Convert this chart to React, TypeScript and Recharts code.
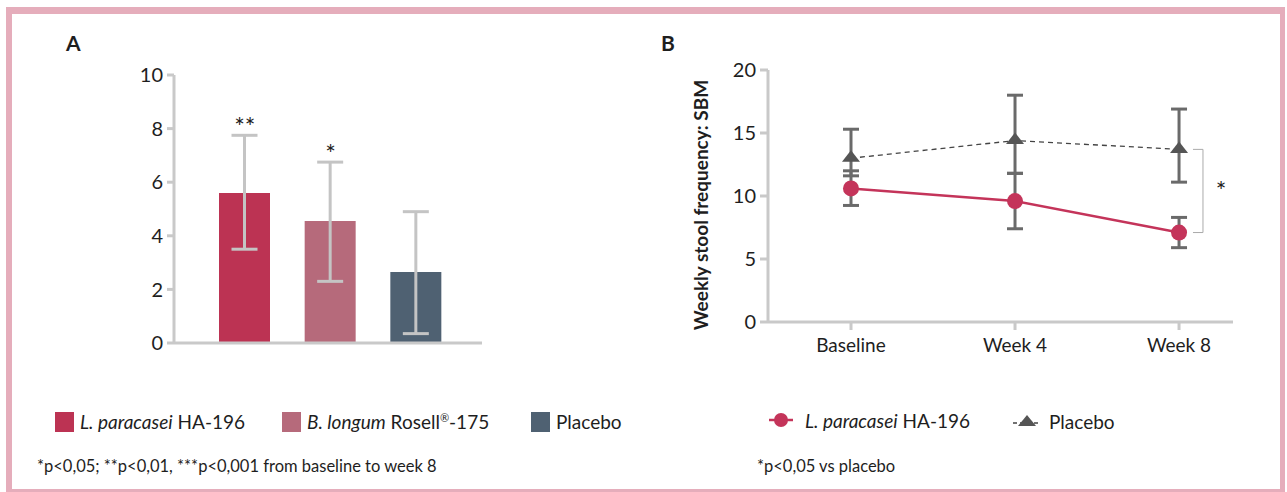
import React from 'react';
import {
  ComposedChart,
  Bar,
  Cell,
  ErrorBar,
  XAxis,
  YAxis,
  Line,
  LabelList,
  ReferenceLine,
  ReferenceDot,
} from 'recharts';

const FONT = 'Lato, "Noto Sans", sans-serif';
const TEXT = '#1e1e1e';
const AXIS = '#c9c9c9';

// ---------- Panel A data ----------
const groupsA = ['L. paracasei HA-196', 'B. longum Rosell®-175', 'Placebo'];
const meanA = [5.6, 4.55, 2.65];
const lowA = [3.5, 2.3, 0.35];
const highA = [7.75, 6.75, 4.9];
const starsA = ['**', '*', ''];
const colorsA = ['#bc3353', '#b66a7b', '#4f6172'];
const ticksA = [0, 2, 4, 6, 8, 10];

// ---------- Panel B data ----------
const visitsB = ['Baseline', 'Week 4', 'Week 8'];
const probioticB = [10.6, 9.6, 7.1];
const probioticLowB = [9.25, 7.4, 5.9];
const probioticHighB = [12.0, 11.8, 8.3];
const placeboB = [13.0, 14.4, 13.7];
const placeboLowB = [11.6, 11.8, 11.1];
const placeboHighB = [15.3, 18.0, 16.9];
const ticksB = [0, 5, 10, 15, 20];

const dataA = groupsA.map((g, i) => ({
  name: g,
  mean: meanA[i],
  err: [meanA[i] - lowA[i], highA[i] - meanA[i]],
  high: highA[i],
  star: starsA[i],
}));

const dataB = visitsB.map((v, i) => ({
  x: i,
  probiotic: probioticB[i],
  probioticErr: [probioticB[i] - probioticLowB[i], probioticHighB[i] - probioticB[i]],
  placebo: placeboB[i],
  placeboErr: [placeboB[i] - placeboLowB[i], placeboHighB[i] - placeboB[i]],
}));

const RED_LINE = '#c4345a';
const ERR_B = '#6a6a6a';

const Triangle = (props: any) => {
  const { cx, cy } = props;
  if (cx == null || cy == null) return null;
  return (
    <polygon
      points={`${cx - 9},${cy + 3.5} ${cx + 9},${cy + 3.5} ${cx},${cy - 8}`}
      fill="#555555"
    />
  );
};

const last = visitsB.length - 1;

function ChartA() {
  return (
    <ComposedChart
      width={500}
      height={380}
      data={dataA}
      margin={{ top: 75, right: 18, bottom: 7, left: 0 }}
      style={{ position: 'absolute', left: 0, top: 0 }}
    >
      <XAxis
        dataKey="name"
        type="category"
        height={30}
        tick={false}
        tickLine={false}
        axisLine={{ stroke: AXIS, strokeWidth: 3 }}
        padding={{ left: 28, right: 23 }}
      />
      <YAxis
        width={174}
        domain={[0, 10]}
        ticks={ticksA}
        interval={0}
        tickSize={7}
        tickMargin={4}
        tick={{ fill: TEXT, fontSize: 20, fontFamily: FONT }}
        tickLine={{ stroke: AXIS, strokeWidth: 3 }}
        axisLine={{ stroke: AXIS, strokeWidth: 3 }}
      />
      <Bar dataKey="mean" barSize={51} isAnimationActive={false}>
        {dataA.map((d, i) => (
          <Cell key={i} fill={colorsA[i]} />
        ))}
        <ErrorBar dataKey="err" direction="y" width={13} strokeWidth={3} stroke="#c4c4c4" />
      </Bar>
      <Line
        dataKey="high"
        stroke="none"
        dot={false}
        activeDot={false}
        legendType="none"
        isAnimationActive={false}
      >
        <LabelList
          dataKey="star"
          position="top"
          offset={-1}
          fill={TEXT}
          fontSize={25}
          fontFamily={FONT}
        />
      </Line>
    </ComposedChart>
  );
}

function ChartB() {
  return (
    <ComposedChart
      width={620}
      height={380}
      data={dataB}
      margin={{ top: 70, right: 27, bottom: 28, left: 0 }}
      style={{ position: 'absolute', left: 640, top: 0 }}
    >
      <XAxis
        dataKey="x"
        type="number"
        domain={[-0.506, 2.329]}
        ticks={[0, 1, 2]}
        interval={0}
        allowDataOverflow
        height={30}
        tickFormatter={(v: number) => visitsB[v] ?? ''}
        tickSize={8}
        tickMargin={9}
        tick={{ fill: TEXT, fontSize: 19, fontFamily: FONT }}
        tickLine={{ stroke: AXIS, strokeWidth: 3 }}
        axisLine={{ stroke: AXIS, strokeWidth: 3 }}
      />
      <YAxis
        width={128}
        domain={[0, 20]}
        ticks={ticksB}
        interval={0}
        tickSize={8}
        tickMargin={4}
        tick={{ fill: TEXT, fontSize: 20, fontFamily: FONT }}
        tickLine={{ stroke: AXIS, strokeWidth: 3 }}
        axisLine={{ stroke: AXIS, strokeWidth: 3 }}
      />
      <ReferenceLine
        segment={[
          { x: 2.146, y: placeboB[last] },
          { x: 2.146, y: probioticB[last] },
        ]}
        stroke="#aaaaaa"
        strokeWidth={1}
        ifOverflow="visible"
      />
      <ReferenceLine
        segment={[
          { x: 2.085, y: placeboB[last] },
          { x: 2.146, y: placeboB[last] },
        ]}
        stroke="#aaaaaa"
        strokeWidth={1}
        ifOverflow="visible"
      />
      <ReferenceLine
        segment={[
          { x: 2.085, y: probioticB[last] },
          { x: 2.146, y: probioticB[last] },
        ]}
        stroke="#aaaaaa"
        strokeWidth={1}
        ifOverflow="visible"
      />
      <ReferenceDot
        x={2.256}
        y={(placeboB[last] + probioticB[last]) / 2}
        r={0}
        fill="none"
        stroke="none"
        ifOverflow="visible"
        label={{ value: '*', position: 'center', fill: TEXT, fontSize: 25, fontFamily: FONT }}
      />
      <Line
        dataKey="placebo"
        stroke="#444444"
        strokeWidth={1.3}
        strokeDasharray="5 4"
        dot={<Triangle />}
        activeDot={false}
        isAnimationActive={false}
      >
        <ErrorBar dataKey="placeboErr" direction="y" width={8} strokeWidth={3} stroke={ERR_B} />
      </Line>
      <Line
        dataKey="probiotic"
        stroke={RED_LINE}
        strokeWidth={2.5}
        dot={{ r: 8, fill: RED_LINE, stroke: 'none' }}
        activeDot={false}
        isAnimationActive={false}
      >
        <ErrorBar dataKey="probioticErr" direction="y" width={8} strokeWidth={3} stroke={ERR_B} />
      </Line>
    </ComposedChart>
  );
}

function LegendLabelA({ i }: { i: number }) {
  if (i === 0)
    return (
      <>
        <tspan fontStyle="italic">L. paracasei</tspan>
        <tspan> HA-196</tspan>
      </>
    );
  if (i === 1)
    return (
      <>
        <tspan fontStyle="italic">B. longum</tspan>
        <tspan> Rosell</tspan>
        <tspan fontSize={11} dy={-7}>®</tspan>
        <tspan dy={7}>-175</tspan>
      </>
    );
  return <tspan>{groupsA[i]}</tspan>;
}

function Overlay() {
  const legendAX = [55, 282, 531];
  return (
    <svg
      width={1287}
      height={492}
      style={{ position: 'absolute', left: 0, top: 0, pointerEvents: 'none' }}
      fontFamily={FONT}
    >
      <text x={66} y={51} fontSize={21} fontWeight={700} fill={TEXT}>
        A
      </text>
      <text x={661} y={51} fontSize={21} fontWeight={700} fill={TEXT}>
        B
      </text>
      <text
        transform="translate(708,205) rotate(-90)"
        textAnchor="middle"
        fontSize={19}
        fontWeight={700}
        fill={TEXT}
      >
        Weekly stool frequency: SBM
      </text>

      {groupsA.map((g, i) => (
        <g key={g}>
          <rect x={legendAX[i]} y={412} width={19} height={20} fill={colorsA[i]} />
          <text x={legendAX[i] + 25} y={428.5} fontSize={19} fill={TEXT}>
            <LegendLabelA i={i} />
          </text>
        </g>
      ))}
      <text x={37} y={472} fontSize={16.5} fill={TEXT}>
        *p&lt;0,05; **p&lt;0,01, ***p&lt;0,001 from baseline to week 8
      </text>

      <line x1={769} y1={420} x2={793} y2={420} stroke={RED_LINE} strokeWidth={2.5} />
      <circle cx={781} cy={420} r={7} fill={RED_LINE} />
      <text x={805} y={427.5} fontSize={19} fill={TEXT}>
        <tspan fontStyle="italic">L. paracasei</tspan>
        <tspan> HA-196</tspan>
      </text>
      <line
        x1={1013}
        y1={423}
        x2={1041}
        y2={423}
        stroke="#444444"
        strokeWidth={1.3}
        strokeDasharray="4 3"
      />
      <polygon points="1018,426 1036,426 1027,415" fill="#555555" />
      <text x={1049} y={428.5} fontSize={19} fill={TEXT}>
        Placebo
      </text>
      <text x={757} y={472} fontSize={16.5} fill={TEXT}>
        *p&lt;0,05 vs placebo
      </text>
    </svg>
  );
}

export default function App() {
  return (
    <div
      style={{
        position: 'absolute',
        left: 0,
        top: 0,
        width: 1287,
        height: 492,
        background: '#ffffff',
        overflow: 'hidden',
        fontFamily: FONT,
      }}
    >
      <div
        style={{
          position: 'absolute',
          left: 6,
          top: 7,
          width: 1279,
          height: 485,
          boxSizing: 'border-box',
          borderTop: '7px solid #e5adbb',
          borderLeft: '6px solid #e5adbb',
          borderRight: '5px solid #e5adbb',
          borderBottom: '3px solid #e5adbb',
        }}
      />
      <ChartA />
      <ChartB />
      <Overlay />
    </div>
  );
}
